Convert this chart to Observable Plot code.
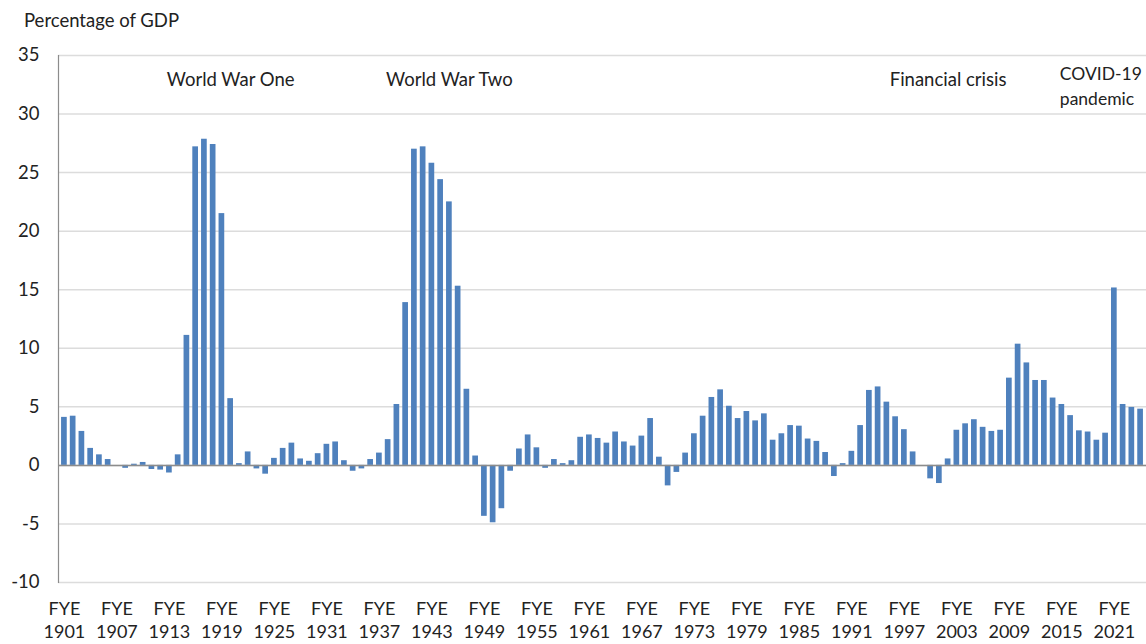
<!DOCTYPE html>
<html>
<head>
<meta charset="utf-8">
<script src="https://cdn.jsdelivr.net/npm/d3@7"></script>
<script src="https://cdn.jsdelivr.net/npm/@observablehq/plot@0.6"></script>
<style>
  body { margin: 0; background: #fff; font-family: Lato, "Open Sans", sans-serif; }
  #title { height: 40px; padding-left: 24px; font-size: 18.5px; line-height: 40px; color: #222; box-sizing: border-box; }
  #title span { position: relative; top: 0px; }
</style>
</head>
<body>
<div id="title"><span>Percentage of GDP</span></div>
<div id="chart"></div>
<script>
const years = d3.range(1901, 2025);
const values = [
  4.1, 4.2, 2.9, 1.45, 0.9, 0.5, 0, -0.25, 0.1, 0.25,
  -0.35, -0.4, -0.65, 0.9, 11.1, 27.2, 27.85, 27.4, 21.5, 5.7,
  0.15, 1.15, -0.3, -0.75, 0.6, 1.45, 1.9, 0.55, 0.35, 1.0,
  1.8, 2.0, 0.4, -0.5, -0.3, 0.5, 1.05, 2.2, 5.2, 13.9,
  27.0, 27.2, 25.8, 24.4, 22.5, 15.3, 6.5, 0.8, -4.35, -4.9,
  -3.7, -0.5, 1.4, 2.6, 1.5, -0.25, 0.5, 0.15, 0.4, 2.4,
  2.6, 2.3, 1.9, 2.85, 2.0, 1.65, 2.5, 4.0, 0.7, -1.75,
  -0.6, 1.05, 2.7, 4.2, 5.8, 6.45, 5.05, 4.0, 4.6, 3.8,
  4.4, 2.15, 2.7, 3.4, 3.35, 2.25, 2.05, 1.1, -0.95, 0.15,
  1.2, 3.4, 6.4, 6.7, 5.4, 4.15, 3.05, 1.15, 0, -1.15,
  -1.55, 0.55, 3.0, 3.55, 3.9, 3.25, 2.9, 3.0, 7.45, 10.35,
  8.75, 7.25, 7.25, 5.75, 5.2, 4.25, 2.95, 2.85, 2.15, 2.75,
  15.15, 5.2, 4.95, 4.8
];
const tickYears = d3.range(1901, 2022, 6);
const yTicks = [-10, -5, 0, 5, 10, 15, 20, 25, 30, 35];
const annLabels = ["World War One", "World War Two", "Financial crisis"];
const annYears = [1920, 1945, 2002];
const covidLabel = "COVID-19\npandemic";
const covidYear = 2015;

const data = years.map((y, i) => ({year: y, value: values[i]}));
const ann = annLabels.map((t, i) => ({label: t, year: annYears[i]}));

const chart = Plot.plot({
  width: 1146,
  height: 604,
  marginTop: 15,
  marginBottom: 62,
  marginLeft: 58,
  marginRight: 0,
  style: {fontFamily: "Lato, 'Open Sans', sans-serif", fontSize: "18.5px", color: "#222", background: "#fff"},
  x: {type: "band", domain: years, padding: 0.35},
  y: {domain: [-10, 35]},
  marks: [
    Plot.gridY(yTicks, {stroke: "#dcdcdc", strokeOpacity: 1, strokeWidth: 1.5}),
    Plot.barY(data, {x: "year", y: "value", fill: "#4f81bd"}),
    Plot.ruleY([0], {stroke: "#8c8c8c", strokeWidth: 1.5}),
    Plot.frame({anchor: "left", stroke: "#8c8c8c", strokeWidth: 1.2}),
    Plot.axisY(yTicks, {tickSize: 0, tickPadding: 19, label: null, fontSize: 18.5, tickFormat: d => String(d)}),
    Plot.axisX(tickYears, {tickSize: 0, tickPadding: 16, label: null, lineHeight: 1.28, fontSize: 18, 
      tickFormat: d => "FYE\n" + d}),
    Plot.text(ann, {x: "year", y: () => 32.9, text: "label", fontSize: 18.5, fill: "#222"}),
    Plot.text([covidLabel], {x: () => covidYear, y: () => 32.5, text: d => d, textAnchor: "start", lineHeight: 1.4, fontSize: 17.5, dx: -2, fill: "#222"})
  ]
});
document.getElementById("chart").appendChild(chart);
</script>
</body>
</html>
